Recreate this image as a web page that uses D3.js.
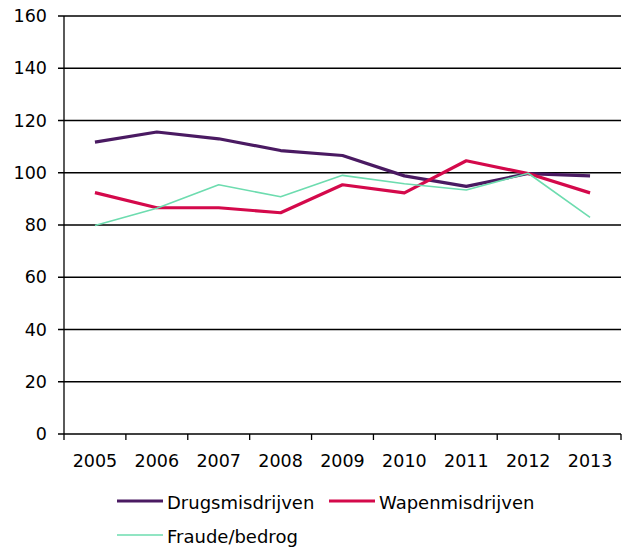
<!DOCTYPE html>
<html>
<head>
<meta charset="utf-8">
<script src="https://cdn.jsdelivr.net/npm/d3@7"></script>
<style>
  body { margin: 0; background: #fff; }
  text { font-family: "DejaVu Sans", Verdana, sans-serif; fill: #000; }
</style>
</head>
<body>
<svg id="chart" width="624" height="547"></svg>
<script>
// jaren op de x-as
var years = ["2005", "2006", "2007", "2008", "2009", "2010", "2011", "2012", "2013"];

// indexcijfers per soort misdrijf
var drugs = [111.7, 115.6, 113, 108.5, 106.6, 98.8, 94.8, 99.7, 98.8];
var wapen = [92.4, 86.6, 86.6, 84.7, 95.4, 92.3, 104.6, 99.7, 92.3];
var fraude = [79.8, 86.4, 95.4, 90.8, 99.0, 95.8, 93.4, 99.8, 82.9];

var yTicks = [0, 20, 40, 60, 80, 100, 120, 140, 160];

var series = [
  { name: "Drugsmisdrijven", values: drugs, color: "#4a1a62", width: 3.2 },
  { name: "Wapenmisdrijven", values: wapen, color: "#d4094b", width: 3.2 },
  { name: "Fraude/bedrog", values: fraude, color: "#6ddcaf", width: 1.6 }
];

var svg = d3.select("#chart");
var plotLeft = 64, plotRight = 621, plotTop = 16, plotBottom = 434;

var x = d3.scaleBand().domain(years).range([plotLeft, plotRight]);
var y = d3.scaleLinear().domain([0, 160]).range([plotBottom, plotTop]);

// horizontale rasterlijnen
svg.append("g")
  .selectAll("line")
  .data(yTicks)
  .join("line")
  .attr("x1", plotLeft - 6)
  .attr("x2", plotRight)
  .attr("y1", d => y(d))
  .attr("y2", d => y(d))
  .attr("stroke", "#000")
  .attr("stroke-width", 1.3);

// y-as
svg.append("line")
  .attr("x1", plotLeft).attr("x2", plotLeft)
  .attr("y1", plotTop).attr("y2", plotBottom)
  .attr("stroke", "#000").attr("stroke-width", 1.3);

svg.append("g")
  .selectAll("text")
  .data(yTicks)
  .join("text")
  .attr("x", 47)
  .attr("y", d => y(d) + 6)
  .attr("text-anchor", "end")
  .attr("font-size", 17.5)
  .text(d => d);

// x-as tickjes op de bandgrenzen
var bounds = years.map(d => x(d)).concat([plotRight]);
svg.append("g")
  .selectAll("line")
  .data(bounds)
  .join("line")
  .attr("x1", d => d).attr("x2", d => d)
  .attr("y1", plotBottom).attr("y2", plotBottom + 6)
  .attr("stroke", "#000").attr("stroke-width", 1.3);

svg.append("g")
  .selectAll("text")
  .data(years)
  .join("text")
  .attr("x", d => x(d) + x.bandwidth() / 2)
  .attr("y", 467)
  .attr("text-anchor", "middle")
  .attr("font-size", 17.5)
  .text(d => d);

// lijnen
var line = d3.line()
  .x((d, i) => x(years[i]) + x.bandwidth() / 2)
  .y(d => y(d));

series.forEach(function (s) {
  svg.append("path")
    .datum(s.values)
    .attr("d", line)
    .attr("fill", "none")
    .attr("stroke", s.color)
    .attr("stroke-width", s.width)
    .attr("stroke-linejoin", "round");
});

// legenda
var legendPos = [[117, 501], [329, 501], [117, 535]];
series.forEach(function (s, i) {
  var p = legendPos[i];
  svg.append("line")
    .attr("x1", p[0]).attr("x2", p[0] + 46)
    .attr("y1", p[1]).attr("y2", p[1])
    .attr("stroke", s.color)
    .attr("stroke-width", s.width);
  svg.append("text")
    .attr("x", p[0] + 50)
    .attr("y", p[1] + 8)
    .attr("font-size", 18)
    .text(s.name);
});
</script>
</body>
</html>
